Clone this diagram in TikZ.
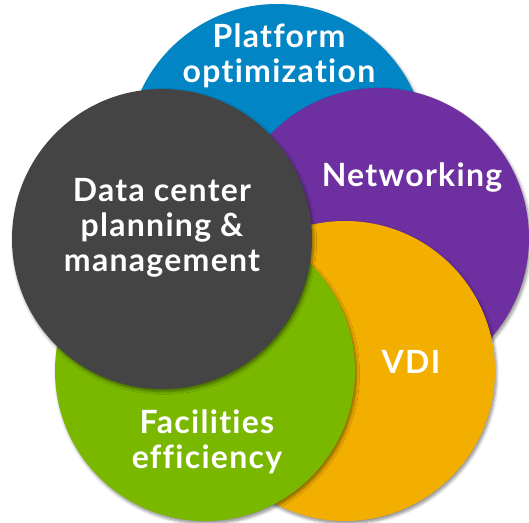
\documentclass[tikz,border=0pt]{standalone}
\usepackage{fontspec}
\setmainfont{Lato}[Ligatures=NoCommon, LetterSpace=4]
\usetikzlibrary{shadows.blur}
\definecolor{ring_blue}{RGB}{1,133,197}
\definecolor{ring_purple}{RGB}{110,48,160}
\definecolor{ring_orange}{RGB}{242,175,0}
\definecolor{ring_green}{RGB}{122,184,0}
\definecolor{ring_gray}{RGB}{68,68,68}

\begin{document}
\begin{tikzpicture}[x=1pt,y=-1pt]
    \tikzstyle{ring}=[circle, minimum size=300pt, inner sep=0pt, draw=none,
        blur shadow={shadow xshift=1.5pt, shadow yshift=-2.5pt, shadow blur steps=6, shadow blur radius=3pt, shadow opacity=45}]
    \tikzstyle{caption}=[text=white, align=center, inner sep=0pt, font=\bfseries\fontsize{32}{35}\selectfont]

    \useasboundingbox (0,0) rectangle (529,522);

    \node[ring, fill=ring_blue]   (platform) at (277,154) {};
    \node[ring, fill=ring_purple] (network)  at (379,238) {};
    \node[ring, fill=ring_orange] (vdi)      at (345,371) {};
    \node[ring, fill=ring_green]  (facility) at (205,371) {};
    \node[ring, fill=ring_gray]   (center)   at (162,239) {};

    \node[caption] (platform_txt) at (279,56)    {Platform\\optimization};
    \node[caption] (network_txt)  at (412,177.5) {Networking};
    \node[caption] (center_txt)   at (162,228) {Data center\\planning \&\\management};
    \node[caption] (vdi_txt)      at (411,361.5) {VDI};
    \node[caption] (facility_txt) at (207,442) {Facilities\\efficiency};
\end{tikzpicture}
\end{document}
